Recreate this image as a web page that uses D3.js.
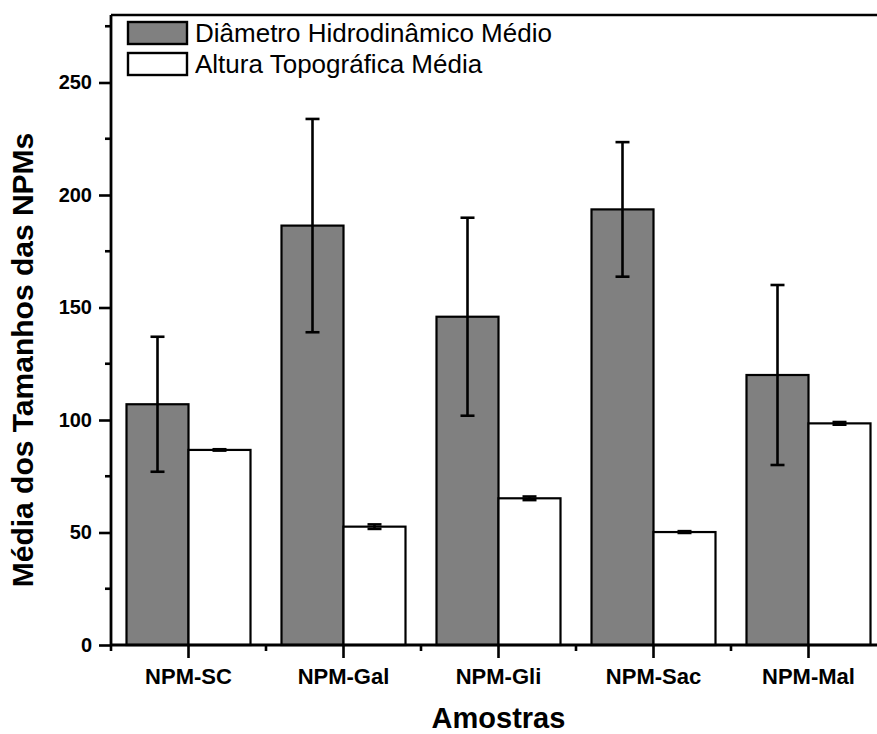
<!DOCTYPE html>
<html>
<head>
<meta charset="utf-8">
<script src="https://cdn.jsdelivr.net/npm/d3@7/dist/d3.min.js"></script>
<style>
  body { margin: 0; background: #fff; }
  svg { display: block; font-family: "Liberation Sans", Arial, sans-serif; }
</style>
</head>
<body>
<svg id="chart" width="877" height="734"></svg>
<script>
// data
const categories = ['NPM-SC', 'NPM-Gal', 'NPM-Gli', 'NPM-Sac', 'NPM-Mal'];
const seriesNames = ['Diâmetro Hidrodinâmico Médio', 'Altura Topográfica Média'];
const hydroMean = [107, 186.4, 145.9, 193.6, 120];
const hydroErr  = [30, 47.4, 44, 29.9, 40];
const topoMean  = [86.7, 52.6, 65.2, 50.2, 98.5];
const topoErr   = [0.3, 1.0, 0.8, 0.4, 0.6];
const yMajorTicks = [0, 50, 100, 150, 200, 250];
const yMinorTicks = [25, 75, 125, 175, 225, 275];

const colors = ['#808080', '#ffffff'];

const svg = d3.select('#chart');
const plotL = 111, plotR = 886, plotT = 15, plotB = 645;

const x = d3.scaleBand().domain(categories).range([plotL, plotR]).paddingInner(0).paddingOuter(0);
const xs = d3.scaleBand().domain(d3.range(seriesNames.length)).range([0, x.bandwidth()]).paddingOuter(0.25).paddingInner(0);
const y = d3.scaleLinear().domain([0, 280]).range([plotB, plotT]);

const rows = [];
categories.forEach((c, i) => {
  rows.push({ cat: c, s: 0, v: hydroMean[i], e: hydroErr[i] });
  rows.push({ cat: c, s: 1, v: topoMean[i], e: topoErr[i] });
});

// bars
svg.append('g').selectAll('rect').data(rows).join('rect')
  .attr('x', d => x(d.cat) + xs(d.s))
  .attr('y', d => y(d.v))
  .attr('width', xs.bandwidth())
  .attr('height', d => y(0) - y(d.v))
  .attr('fill', d => colors[d.s])
  .attr('stroke', '#000')
  .attr('stroke-width', 2.2);

// error bars
const eg = svg.append('g').attr('stroke', '#000').attr('stroke-width', 2.6);
rows.forEach(d => {
  const cx = x(d.cat) + xs(d.s) + xs.bandwidth() / 2;
  eg.append('line').attr('x1', cx).attr('x2', cx).attr('y1', y(d.v - d.e)).attr('y2', y(d.v + d.e));
  [d.v - d.e, d.v + d.e].forEach(v => {
    eg.append('line').attr('x1', cx - 7).attr('x2', cx + 7).attr('y1', y(v)).attr('y2', y(v));
  });
});

// frame: top + right borders
svg.append('line').attr('x1', plotL).attr('x2', plotR).attr('y1', plotT).attr('y2', plotT)
  .attr('stroke', '#000').attr('stroke-width', 2.6);
svg.append('line').attr('x1', plotR).attr('x2', plotR).attr('y1', plotT).attr('y2', plotB)
  .attr('stroke', '#000').attr('stroke-width', 2.6);

// y axis
const yAxis = svg.append('g').attr('transform', `translate(${plotL},0)`)
  .call(d3.axisLeft(y).tickValues(yMajorTicks).tickSize(12).tickPadding(7).tickFormat(d3.format('d')));
yAxis.append('g').selectAll('line').data(yMinorTicks).join('line')
  .attr('x1', -6).attr('x2', 0).attr('y1', d => y(d)).attr('y2', d => y(d));
yAxis.select('.domain').attr('d', `M0,${plotT}V${plotB}`);
yAxis.selectAll('line').attr('stroke', '#000').attr('stroke-width', 2.6);
yAxis.select('.domain').attr('stroke', '#000').attr('stroke-width', 2.8);
yAxis.selectAll('text').attr('font-size', 20).attr('font-weight', 'bold').attr('fill', '#000')
  .attr('font-family', '"Liberation Sans", Arial, sans-serif');

// x axis
const xAxis = svg.append('g').attr('transform', `translate(0,${plotB})`)
  .call(d3.axisBottom(x).tickSize(13).tickPadding(10));
xAxis.append('g').selectAll('line').data(d3.range(categories.length + 1)).join('line')
  .attr('x1', i => plotL + i * x.step()).attr('x2', i => plotL + i * x.step())
  .attr('y1', 0).attr('y2', 6);
xAxis.select('.domain').attr('d', `M${plotL},0H${plotR}`);
xAxis.selectAll('line').attr('stroke', '#000').attr('stroke-width', 2.6);
xAxis.select('.domain').attr('stroke', '#000').attr('stroke-width', 2.8);
xAxis.selectAll('text').attr('font-size', 22).attr('font-weight', 'bold').attr('fill', '#000')
  .attr('font-family', '"Liberation Sans", Arial, sans-serif');

// axis titles
svg.append('text').attr('x', (plotL + plotR) / 2).attr('y', 728)
  .attr('text-anchor', 'middle').attr('font-size', 29).attr('font-weight', 'bold')
  .text('Amostras');
svg.append('text').attr('transform', 'translate(33,360) rotate(-90)')
  .attr('text-anchor', 'middle').attr('font-size', 30).attr('font-weight', 'bold')
  .text('Média dos Tamanhos das NPMs');

// legend
const lg = svg.append('g');
seriesNames.forEach((name, i) => {
  const yy = 22 + i * 31;
  lg.append('rect').attr('x', 128).attr('y', yy).attr('width', 59).attr('height', 22)
    .attr('fill', colors[i]).attr('stroke', '#000').attr('stroke-width', 2.4);
  lg.append('text').attr('x', 195).attr('y', yy + 20).attr('font-size', 26).text(name);
});
</script>
</body>
</html>
